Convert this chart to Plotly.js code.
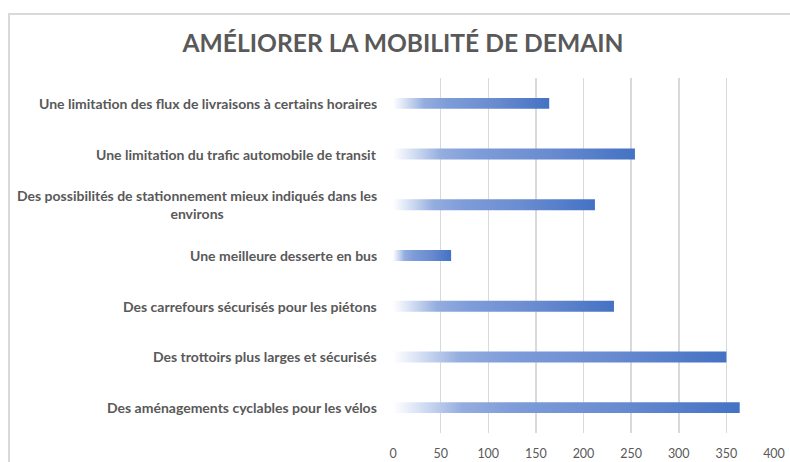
<!DOCTYPE html>
<html>
<head>
<meta charset="utf-8">
<script src="https://cdn.plot.ly/plotly-3.0.1.min.js"></script>
<style>html,body{margin:0;padding:0;background:#fff;}#chart{width:790px;height:462px;}</style>
</head>
<body>
<div id="chart"></div>
<script>
// Data (top to bottom as shown)
const categories = [
  "Une limitation des flux de livraisons à certains horaires",
  "Une limitation du trafic automobile de transit",
  "Des possibilités de stationnement mieux indiqués dans les<br>environs",
  "Une meilleure desserte en bus",
  "Des carrefours sécurisés pour les piétons",
  "Des trottoirs plus larges et sécurisés",
  "Des aménagements cyclables pour les vélos"
];
const values = [164, 254, 212, 61, 232, 350, 364];
const xTickValues = [0, 50, 100, 150, 200, 250, 300, 350, 400];

const n = categories.length;
const halfH = 0.108;
const gradient = [
  [0, '#ffffff'],
  [0.07, '#dbe4f5'],
  [0.2, '#94addf'],
  [0.35, '#7e9cd9'],
  [0.65, '#698bd0'],
  [1, '#4472c4']
];

const traces = categories.map((c, i) => {
  const pos = n - 1 - i;
  const v = values[i];
  return {
    type: 'scatter',
    mode: 'lines',
    x: [0, v, v, 0, 0],
    y: [pos - halfH, pos - halfH, pos + halfH, pos + halfH, pos - halfH],
    fill: 'toself',
    fillgradient: { type: 'horizontal', colorscale: gradient },
    line: { width: 0, color: 'rgba(0,0,0,0)' },
    hoverinfo: 'skip',
    showlegend: false
  };
});

const annotations = categories.map((c, i) => ({
  xref: 'x', yref: 'y',
  x: 0, y: n - 1 - i,
  xshift: -14,
  xanchor: 'right', yanchor: 'middle',
  align: 'center',
  showarrow: false,
  text: c,
  font: { family: 'Lato, sans-serif', size: 14, color: '#595959', weight: 'bold' }
}));

const layout = {
  width: 790, height: 462,
  margin: { l: 393, r: 16, t: 78, b: 29 },
  paper_bgcolor: '#ffffff',
  plot_bgcolor: '#ffffff',
  title: {
    text: '<b>AMÉLIORER LA MOBILITÉ DE DEMAIN</b>',
    x: 403 / 790, xanchor: 'center', xref: 'container',
    y: 1 - 43 / 462, yanchor: 'middle', yref: 'container',
    font: { family: 'Lato, sans-serif', size: 24.6, color: '#595959' }
  },
  xaxis: {
    range: [0, 400],
    tickvals: xTickValues,
    ticktext: xTickValues.map(String),
    showgrid: true, gridcolor: '#d9d9d9', gridwidth: 1.5,
    zeroline: false, showline: false, ticks: '',
    ticklabelstandoff: 11,
    tickfont: { family: 'Lato, sans-serif', size: 12.5, color: '#595959' },
    fixedrange: true
  },
  yaxis: {
    range: [-0.5, n - 0.5],
    showticklabels: false, showgrid: false, zeroline: false, showline: false, ticks: '',
    fixedrange: true
  },
  annotations: annotations,
  shapes: [{
    type: 'rect', xref: 'paper', yref: 'paper',
    x0: (9 - 393) / 381, x1: 1.2,
    y0: -0.2, y1: 1 + 64 / 355,
    line: { color: '#d9d9d9', width: 2 },
    fillcolor: 'rgba(0,0,0,0)', layer: 'below'
  }]
};

Plotly.newPlot('chart', traces, layout, { displayModeBar: false, staticPlot: true });
</script>
</body>
</html>
